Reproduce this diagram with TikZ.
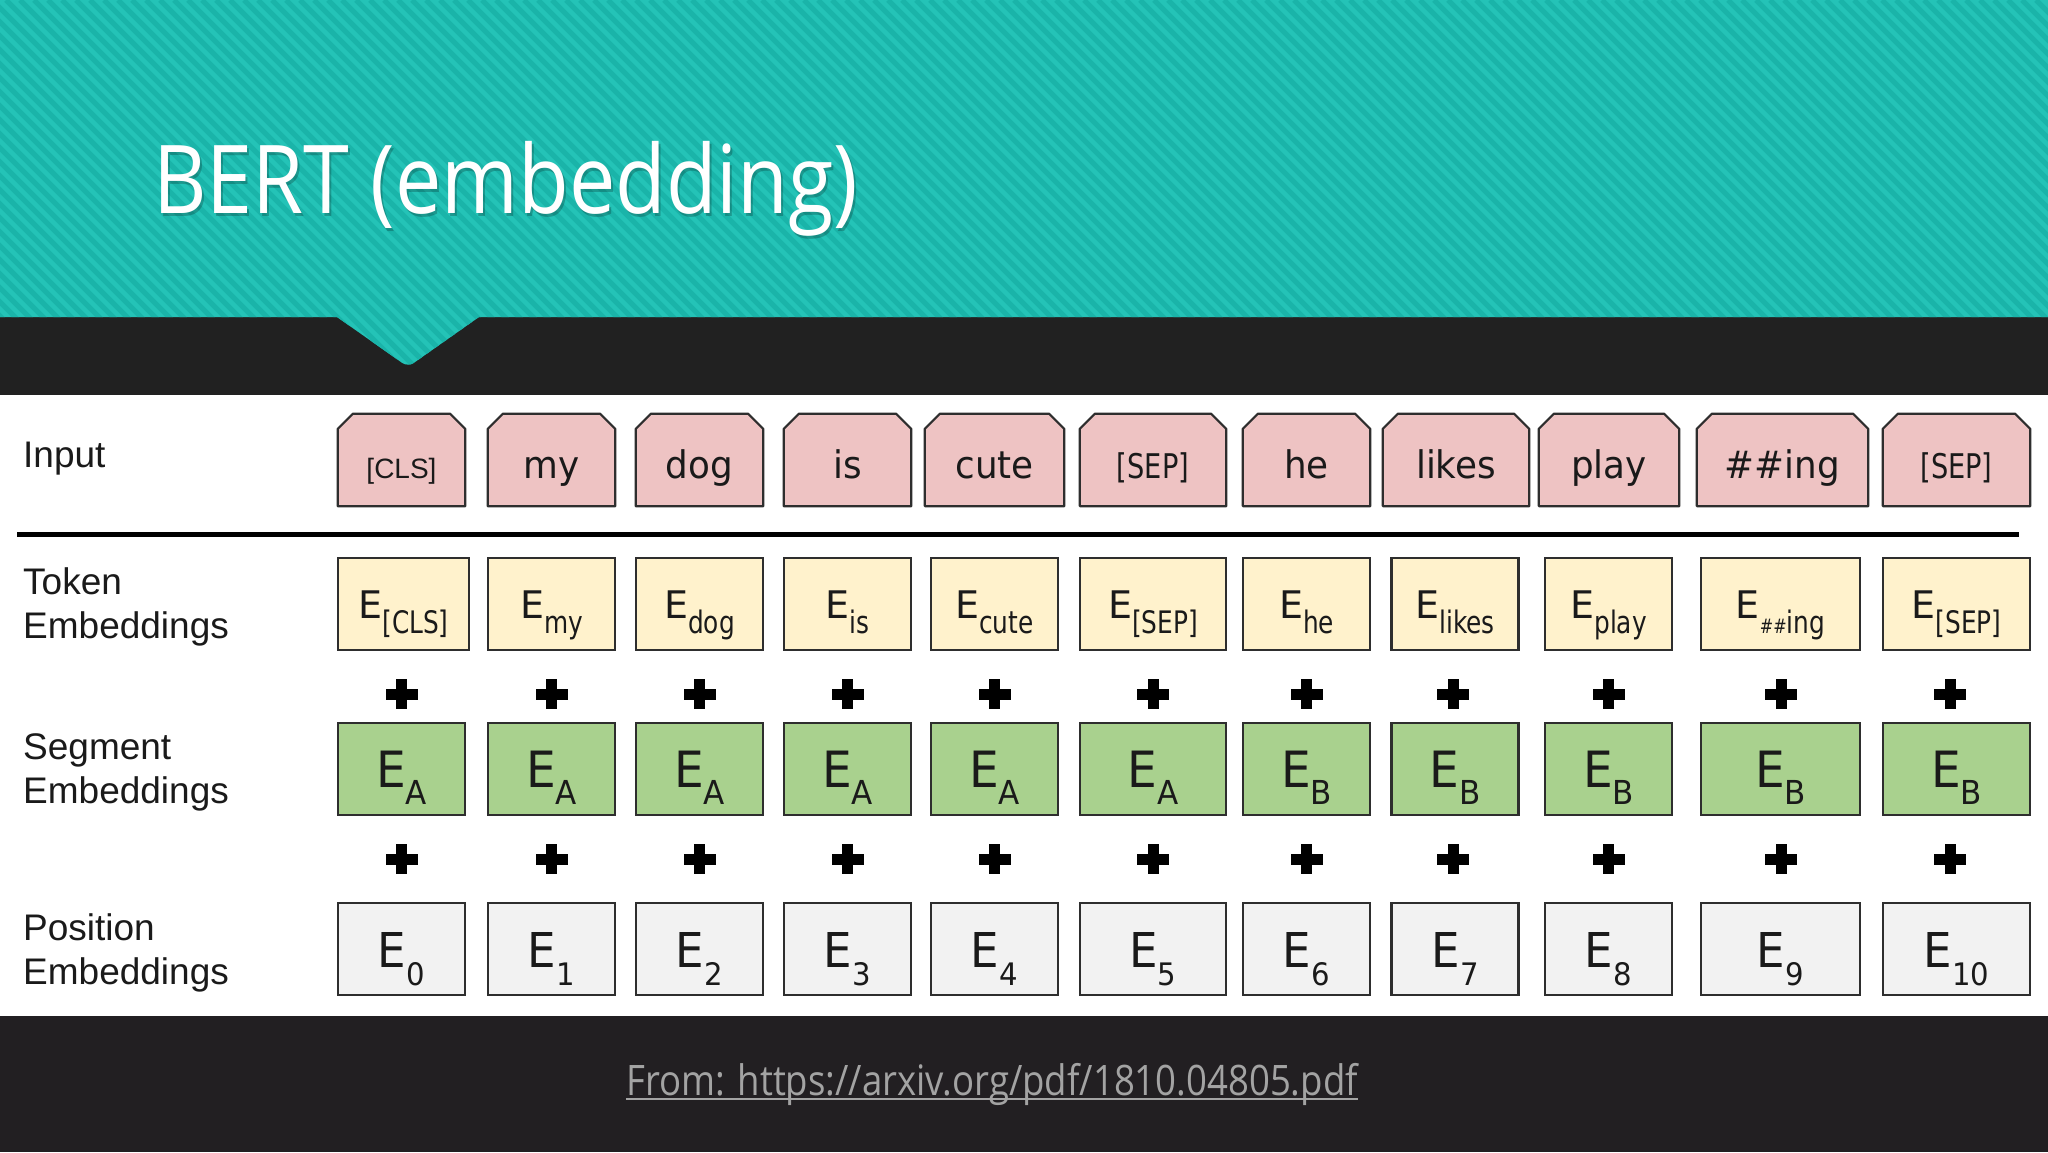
\documentclass[tikz,border=0pt]{standalone}
\usepackage{fontspec}
\setmainfont{Liberation Sans}
\newfontfamily\dvs{DejaVu Sans}
\newfontfamily\dvn[FakeStretch=0.94]{DejaVu Sans}
\newfontfamily\dvc[FakeStretch=0.8]{DejaVu Sans}
\newfontfamily\ttl[FakeStretch=0.87]{Open Sans}
\usetikzlibrary{calc}
\definecolor{tealA}{HTML}{24C3B7}
\definecolor{tealS}{HTML}{1AB4A9}
\definecolor{band}{HTML}{212121}
\definecolor{bottomdark}{HTML}{221F22}
\definecolor{inpink}{HTML}{EEC3C3}
\definecolor{tokyel}{HTML}{FFF2CC}
\definecolor{seggrn}{HTML}{A9D18E}
\definecolor{posgry}{HTML}{F2F2F2}
\definecolor{edge}{HTML}{2E2E2E}
\definecolor{ink}{HTML}{1A1A1A}
\definecolor{linkgray}{HTML}{A3A3A3}
\newcommand{\fsz}[1]{\fontsize{#1}{#1}\selectfont}
\newcommand{\tsub}[1]{\raisebox{-15pt}{\dvc\fsz{31}#1}}
\newcommand{\tokE}[1]{{\dvs\fsz{38}E}\tsub{#1}}
\newcommand{\segE}[1]{{\dvn\fsz{50}E}\raisebox{-17pt}{\dvn\fsz{33}#1}}
\newcommand{\posE}[1]{{\dvn\fsz{48}E}\raisebox{-18pt}{\dvn\fsz{31}#1}}
\begin{document}
\begin{tikzpicture}[x=1pt,y=-1pt,
  cell/.style={draw=edge, line width=2.2pt, inner sep=0pt, minimum height=92pt,
    text height=64pt, text depth=28pt, text=ink},
  tokbox/.style={cell, fill=tokyel, text height=60pt, text depth=32pt},
  segbox/.style={cell, fill=seggrn},
  posbox/.style={cell, fill=posgry},
  inshape/.style={inner sep=0pt, minimum height=92pt, text height=64pt, text depth=28pt},
  intext/.style={inner sep=0pt, text height=64pt, text depth=28pt, text=ink, font=\dvn\fsz{38}},
  inedge/.style={draw=edge, fill=inpink, line width=2.2pt, line join=round},
  rowlabel/.style={anchor=base west, inner sep=0pt, text=ink, font=\fsz{37}, align=left},
  plus/.style={fill=black}
]
\useasboundingbox (0,0) rectangle (2048,1152);
\fill[white] (0,0) rectangle (2048,1152);
\fill[band] (0,317) rectangle (2048,395);
\fill[bottomdark] (0,1016) rectangle (2048,1152);
% teal header with notch and stripes
\begin{scope}
  \clip (0,0) -- (2048,0) -- (2048,317) -- (479,317) [rounded corners=7pt] -- (408,367) [sharp corners] -- (337,317) -- (0,317) -- cycle;
  \fill[tealA] (0,0) rectangle (2048,380);
  \foreach \x in {-400,-386,...,2050} \draw[tealS, line width=5pt] (\x,0) -- ++(380,380);
\end{scope}
% title
\node[anchor=base west, inner sep=0pt, text=black, opacity=0.22, font=\ttl\fsz{95}] (titleshadow) at (155,216) {BERT (embedding)};
\node[anchor=base west, inner sep=0pt, text=white, font=\ttl\fsz{95}] (title) at (153,213) {BERT (embedding)};
% row labels
\node[rowlabel] (lin) at (23,467) {Input};
\node[rowlabel] (ltok1) at (23,594) {Token};
\node[rowlabel] (ltok2) at (23,638) {Embeddings};
\node[rowlabel] (lseg1) at (23,759) {Segment};
\node[rowlabel] (lseg2) at (23,803) {Embeddings};
\node[rowlabel] (lpos1) at (23,940) {Position};
\node[rowlabel] (lpos2) at (23,984) {Embeddings};
% separator line
\coordinate (sepL) at (17,534);
\coordinate (sepR) at (2019,534);
\draw[black, line width=5pt] (sepL) -- (sepR);
% input chamfered boxes
\foreach \i/\cx/\w in {1/401.5/127, 2/551.5/127, 3/699.5/127, 4/847.5/127, 5/994.5/139, 6/1153/146, 7/1306.5/127, 8/1456/146, 9/1609/140, 10/1782.5/171, 11/1956.5/147}{
  \node[inshape, minimum width=\w pt] (in\i) at (\cx,460) {};
  \filldraw[inedge] (in\i.south west) -- ($(in\i.north west)+(0,15)$) -- ($(in\i.north west)+(15,0)$)
     -- ($(in\i.north east)+(-15,0)$) -- ($(in\i.north east)+(0,15)$) -- (in\i.south east) -- cycle;
}
\node[intext, font=\fsz{28}] (in1t) at (in1.center) {[CLS]};
\node[intext] (in2t) at (in2.center) {my};
\node[intext] (in3t) at (in3.center) {dog};
\node[intext] (in4t) at (in4.center) {is};
\node[intext] (in5t) at (in5.center) {cute};
\node[intext, font=\dvc\fsz{34}] (in6t) at (in6.center) {[SEP]};
\node[intext] (in7t) at (in7.center) {he};
\node[intext] (in8t) at (in8.center) {likes};
\node[intext] (in9t) at (in9.center) {play};
\node[intext] (in10t) at (in10.center) {\#\#ing};
\node[intext, font=\dvc\fsz{34}] (in11t) at (in11.center) {[SEP]};
% token embeddings
\node[tokbox, minimum width=131pt] (tok1) at (403.5,604) {\tokE{[CLS]}};
\node[tokbox, minimum width=127pt] (tok2) at (551.5,604) {\tokE{my}};
\node[tokbox, minimum width=127pt] (tok3) at (699.5,604) {\tokE{dog}};
\node[tokbox, minimum width=127pt] (tok4) at (847.5,604) {\tokE{is}};
\node[tokbox, minimum width=127pt] (tok5) at (994.5,604) {\tokE{cute}};
\node[tokbox, minimum width=146pt] (tok6) at (1153,604) {\tokE{[SEP]}};
\node[tokbox, minimum width=127pt] (tok7) at (1306.5,604) {\tokE{he}};
\node[tokbox, minimum width=127pt] (tok8) at (1455,604) {\tokE{likes}};
\node[tokbox, minimum width=127pt] (tok9) at (1608.5,604) {\tokE{play}};
\node[tokbox, minimum width=159pt] (tok10) at (1780.5,604) {\tokE{{\fsz{20}\#\#}ing}};
\node[tokbox, minimum width=147pt] (tok11) at (1956.5,604) {\tokE{[SEP]}};
% segment embeddings
\node[segbox, minimum width=127pt] (seg1) at (401.5,769) {\segE{A}};
\node[segbox, minimum width=127pt] (seg2) at (551.5,769) {\segE{A}};
\node[segbox, minimum width=127pt] (seg3) at (699.5,769) {\segE{A}};
\node[segbox, minimum width=127pt] (seg4) at (847.5,769) {\segE{A}};
\node[segbox, minimum width=127pt] (seg5) at (994.5,769) {\segE{A}};
\node[segbox, minimum width=146pt] (seg6) at (1153,769) {\segE{A}};
\node[segbox, minimum width=127pt] (seg7) at (1306.5,769) {\segE{B}};
\node[segbox, minimum width=127pt] (seg8) at (1455,769) {\segE{B}};
\node[segbox, minimum width=127pt] (seg9) at (1608.5,769) {\segE{B}};
\node[segbox, minimum width=159pt] (seg10) at (1780.5,769) {\segE{B}};
\node[segbox, minimum width=147pt] (seg11) at (1956.5,769) {\segE{B}};
% position embeddings
\node[posbox, minimum width=127pt] (pos1) at (401.5,949) {\posE{0}};
\node[posbox, minimum width=127pt] (pos2) at (551.5,949) {\posE{1}};
\node[posbox, minimum width=127pt] (pos3) at (699.5,949) {\posE{2}};
\node[posbox, minimum width=127pt] (pos4) at (847.5,949) {\posE{3}};
\node[posbox, minimum width=127pt] (pos5) at (994.5,949) {\posE{4}};
\node[posbox, minimum width=146pt] (pos6) at (1153,949) {\posE{5}};
\node[posbox, minimum width=127pt] (pos7) at (1306.5,949) {\posE{6}};
\node[posbox, minimum width=127pt] (pos8) at (1455,949) {\posE{7}};
\node[posbox, minimum width=127pt] (pos9) at (1608.5,949) {\posE{8}};
\node[posbox, minimum width=159pt] (pos10) at (1780.5,949) {\posE{9}};
\node[posbox, minimum width=147pt] (pos11) at (1956.5,949) {\posE{10}};
% plus signs
\foreach \cx in {401.5, 551.5, 699.5, 847.5, 994.5, 1153, 1306.5, 1453, 1608.5, 1781, 1950}{
  \foreach \cy in {694, 859}{
    \fill[plus] ({\cx-16},{\cy-5.5}) rectangle ({\cx+16},{\cy+5.5});
    \fill[plus] ({\cx-5.5},{\cy-15}) rectangle ({\cx+5.5},{\cy+15});
  }
}
% source link
\node[anchor=base, inner sep=0pt, text=linkgray, font=\ttl\fsz{42}] (link) at (992,1095) {From: https://arxiv.org/pdf/1810.04805.pdf};
\draw[linkgray, line width=2pt] ($(link.base west)+(0,4)$) -- ($(link.base east)+(0,4)$);
\end{tikzpicture}
\end{document}
